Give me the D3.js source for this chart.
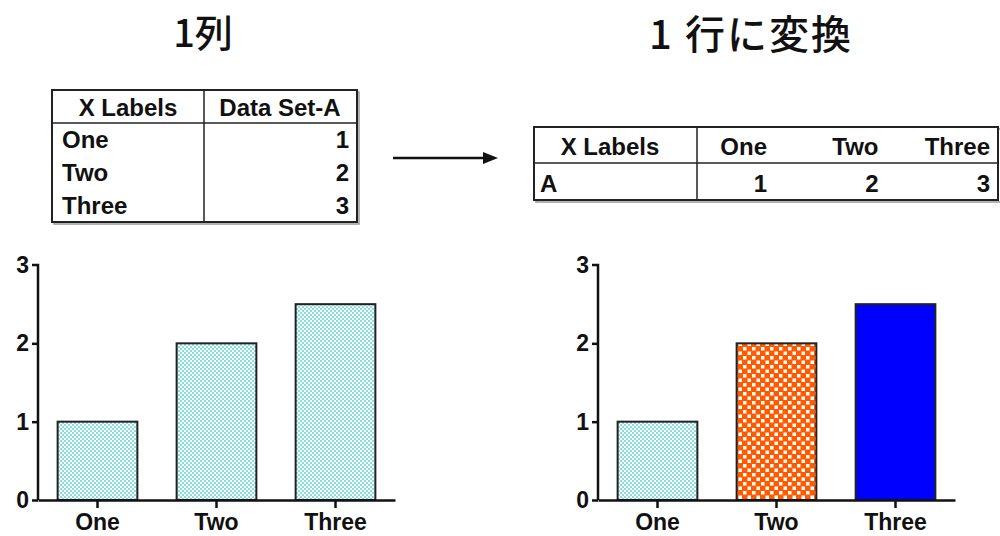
<!DOCTYPE html>
<html>
<head>
<meta charset="utf-8">
<script src="https://cdn.jsdelivr.net/npm/d3@7"></script>
<style>
  html, body { margin: 0; padding: 0; background: #fff; }
  svg { display: block; }
</style>
</head>
<body>
<svg id="chart" width="1000" height="536"></svg>
<script>
// Categories and bar heights
const categories = ["One", "Two", "Three"];
const barValues = [1, 2, 2.5];
// Values listed in the data tables
const tableValues = [1, 2, 3];
const yTicks = [0, 1, 2, 3];
const leftTitle = "1列";
const rightTitle = "1 行に変換";
const headerX = "X Labels";
const headerDataSet = "Data Set-A";
const rowName = "A";

const svg = d3.select("#chart");
const latin = "Arial, 'Liberation Sans', sans-serif";
const cjk = "'Noto Sans CJK JP', sans-serif";

// ---- fill patterns ----
const defs = svg.append("defs");
const dots = defs.append("pattern").attr("id", "cyanDots")
  .attr("patternUnits", "userSpaceOnUse").attr("width", 4).attr("height", 4);
dots.append("rect").attr("width", 4).attr("height", 4).attr("fill", "#ffffff");
dots.append("rect").attr("x", 0).attr("y", 0).attr("width", 2).attr("height", 2).attr("fill", "#86dede");
dots.append("rect").attr("x", 2).attr("y", 2).attr("width", 2).attr("height", 2).attr("fill", "#86dede");

const checks = defs.append("pattern").attr("id", "orangeChecks")
  .attr("patternUnits", "userSpaceOnUse").attr("width", 9).attr("height", 9);
checks.append("rect").attr("width", 9).attr("height", 9).attr("fill", "#ff5a00");
checks.append("rect").attr("x", 0.5).attr("y", 0.5).attr("width", 3.5).attr("height", 3.5).attr("fill", "#ffffff");
checks.append("rect").attr("x", 5).attr("y", 5).attr("width", 3.5).attr("height", 3.5).attr("fill", "#ffffff");

// ---- titles ----
svg.append("text").attr("x", 203).attr("y", 47).attr("text-anchor", "middle")
  .attr("font-family", cjk).attr("font-size", 38).attr("font-weight", 500)
  .attr("fill", "#111").text(leftTitle);
svg.append("text").attr("x", 751).attr("y", 49).attr("text-anchor", "middle")
  .attr("font-family", cjk).attr("font-size", 40).attr("font-weight", 500)
  .attr("letter-spacing", 2).attr("fill", "#111").text(rightTitle);

// ---- left table (one column) ----
const lt = svg.append("g").attr("font-family", latin).attr("font-weight", "bold")
  .attr("font-size", 24).attr("fill", "#111");
lt.append("rect").attr("x", 54).attr("y", 92).attr("width", 305).attr("height", 132)
  .attr("fill", "none").attr("stroke", "#999").attr("stroke-width", 1.5);
lt.append("rect").attr("x", 52).attr("y", 90).attr("width", 305).attr("height", 132)
  .attr("fill", "#fff").attr("stroke", "#222").attr("stroke-width", 2);
lt.append("line").attr("x1", 52).attr("x2", 357).attr("y1", 123).attr("y2", 123)
  .attr("stroke", "#222").attr("stroke-width", 1.5);
lt.append("line").attr("x1", 204).attr("x2", 204).attr("y1", 90).attr("y2", 222)
  .attr("stroke", "#222").attr("stroke-width", 1.5);
lt.append("text").attr("x", 128).attr("y", 116).attr("text-anchor", "middle").text(headerX);
lt.append("text").attr("x", 280).attr("y", 116).attr("text-anchor", "middle").text(headerDataSet);
lt.selectAll("text.rowLabel").data(categories).join("text").attr("class", "rowLabel")
  .attr("x", 62).attr("y", (d, i) => 148 + i * 33).text(d => d);
lt.selectAll("text.rowVal").data(tableValues).join("text").attr("class", "rowVal")
  .attr("x", 349).attr("y", (d, i) => 148 + i * 33).attr("text-anchor", "end").text(d => d);

// ---- arrow ----
svg.append("line").attr("x1", 393).attr("x2", 486).attr("y1", 158).attr("y2", 158)
  .attr("stroke", "#111").attr("stroke-width", 2.5);
svg.append("path").attr("d", "M483,152 L498,158 L483,164 Z").attr("fill", "#111");

// ---- right table (one row) ----
const rt = svg.append("g").attr("font-family", latin).attr("font-weight", "bold")
  .attr("font-size", 24).attr("fill", "#111");
rt.append("rect").attr("x", 536).attr("y", 129).attr("width", 470).attr("height", 73)
  .attr("fill", "none").attr("stroke", "#999").attr("stroke-width", 1.5);
rt.append("rect").attr("x", 534).attr("y", 127).attr("width", 464).attr("height", 73)
  .attr("fill", "#fff").attr("stroke", "#222").attr("stroke-width", 2);
rt.append("line").attr("x1", 534).attr("x2", 998).attr("y1", 163).attr("y2", 163)
  .attr("stroke", "#222").attr("stroke-width", 1.5);
rt.append("line").attr("x1", 697).attr("x2", 697).attr("y1", 127).attr("y2", 200)
  .attr("stroke", "#222").attr("stroke-width", 1.5);
rt.append("text").attr("x", 610).attr("y", 155).attr("text-anchor", "middle").text(headerX);
rt.append("text").attr("x", 540).attr("y", 192).text(rowName);
const colRight = d3.scalePoint().domain(categories).range([767, 990]);
rt.selectAll("text.colHead").data(categories).join("text").attr("class", "colHead")
  .attr("x", d => colRight(d)).attr("y", 155).attr("text-anchor", "end").text(d => d);
rt.selectAll("text.colVal").data(tableValues).join("text").attr("class", "colVal")
  .attr("x", (d, i) => colRight(categories[i])).attr("y", 192).attr("text-anchor", "end").text(d => d);

// ---- bar charts ----
const y = d3.scaleLinear().domain([0, 3]).range([500, 265]);

function barChart(x0, fills) {
  const g = svg.append("g");
  const x = d3.scaleBand().domain(categories).range([x0, x0 + 357])
    .paddingInner(0.33).paddingOuter(0.165);

  g.selectAll("rect.bar").data(barValues).join("rect").attr("class", "bar")
    .attr("x", (d, i) => x(categories[i]))
    .attr("y", d => y(d))
    .attr("width", x.bandwidth())
    .attr("height", d => y(0) - y(d))
    .attr("fill", (d, i) => fills[i])
    .attr("stroke", "#222").attr("stroke-width", 2);

  const yAxis = g.append("g").attr("transform", `translate(${x0},0)`)
    .call(d3.axisLeft(y).tickValues(yTicks).tickFormat(d3.format("d")).tickSize(6).tickPadding(3));
  const xAxis = g.append("g").attr("transform", `translate(0,${y(0)})`)
    .call(d3.axisBottom(x).tickSize(8).tickPadding(6).tickSizeOuter(0));

  [yAxis, xAxis].forEach(a => {
    a.select(".domain").attr("stroke", "#111").attr("stroke-width", 2.5);
    a.selectAll(".tick line").attr("stroke", "#111").attr("stroke-width", 2.5);
    a.selectAll("text").attr("fill", "#111").attr("font-family", latin)
      .attr("font-weight", "bold");
  });
  yAxis.select(".domain").attr("d", `M-6,${y(3)}H0V${y(0)}`);
  yAxis.selectAll(".tick").filter(d => d === 3).select("line").remove();
  yAxis.selectAll("text").attr("font-size", 23);
  xAxis.selectAll("text").attr("font-size", 23);
}

barChart(38, ["url(#cyanDots)", "url(#cyanDots)", "url(#cyanDots)"]);
barChart(598, ["url(#cyanDots)", "url(#orangeChecks)", "#0000ff"]);
</script>
</body>
</html>
